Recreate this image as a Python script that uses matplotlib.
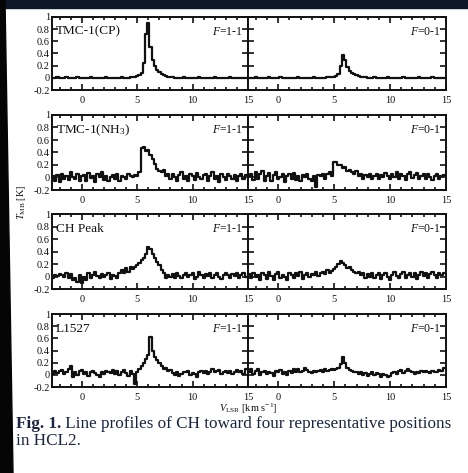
import matplotlib
matplotlib.use('Agg')
import matplotlib.pyplot as plt
import numpy as np
from matplotlib.patches import Rectangle, Polygon
from matplotlib.ticker import MultipleLocator, FixedLocator, FuncFormatter

plt.rcParams['font.family'] = ['Liberation Serif', 'DejaVu Serif']
plt.rcParams['mathtext.fontset'] = 'custom'
plt.rcParams['mathtext.rm'] = 'Liberation Serif'
plt.rcParams['mathtext.it'] = 'Liberation Serif:italic'
plt.rcParams['mathtext.bf'] = 'Liberation Serif:bold'
plt.rcParams['axes.unicode_minus'] = False

# ---------------- data ----------------
v_start, v_step, n_chan = -2.6, 0.2, 88
velocity = v_start + v_step * np.arange(n_chan)

sources = ["TMC-1(CP)", "TMC-1(NH$_3$)", "CH Peak", "L1527"]
transitions = ["$F$=1-1", "$F$=0-1"]

tmc1cp_11 = [0.0, 0.0, 0.01, 0.0, 0.0, 0.0, 0.01, 0.0, 0.0, 0.0,
             0.0, 0.01, 0.0, 0.0, 0.0, 0.0, 0.0, 0.01, 0.0, 0.0,
             0.0, 0.0, 0.0, 0.0, 0.01, 0.0, 0.0, 0.0, 0.0, 0.0,
             0.0, 0.01, 0.0, 0.0, 0.0, 0.01, 0.01, 0.02,
             0.03, 0.04, 0.08, 0.24, 0.72, 0.9, 0.5, 0.3, 0.2, 0.13,
             0.09, 0.06, 0.05, 0.03, 0.02, 0.01, 0.01, 0.0, 0.0, 0.0,
             0.0, 0.01, 0.0, 0.0, 0.0, 0.0, 0.0, 0.0, 0.01, 0.0,
             0.0, 0.0, 0.0, 0.0, 0.0, 0.01, 0.0, 0.0, 0.0, 0.0,
             0.0, 0.0, 0.01, 0.0, 0.0, 0.0, 0.0, 0.0, 0.0, 0.0]
tmc1cp_01 = [0.0, 0.0, 0.0, 0.01, 0.0, 0.0, 0.0, 0.0, 0.0, 0.01,
             0.0, 0.0, 0.0, 0.0, 0.01, 0.0, 0.0, 0.0, 0.0, 0.0,
             0.0, 0.0, 0.01, 0.0, 0.0, 0.0, 0.0, 0.0, 0.0, 0.01,
             0.0, 0.0, 0.0, 0.0, 0.0, 0.01, 0.01, 0.01,
             0.02, 0.03, 0.06, 0.2, 0.38, 0.3, 0.18, 0.12, 0.08, 0.06,
             0.04, 0.03, 0.02, 0.01, 0.01, 0.0, 0.0, 0.0, 0.01, 0.0,
             0.0, 0.0, 0.0, 0.0, 0.01, 0.0, 0.0, 0.0, 0.0, 0.0,
             0.0, 0.01, 0.0, 0.0, 0.0, 0.0, 0.0, 0.0, 0.01, 0.0,
             0.0, 0.0, 0.0, 0.0, 0.01, 0.0, 0.0, 0.0, 0.0, 0.0]
tmc1nh3_11 = [0.02, -0.05, 0.04, -0.08, 0.06, -0.02, 0.03, -0.04, 0.08, 0.0,
              -0.03, 0.05, -0.06, 0.02, 0.04, -0.05, 0.07, -0.01, 0.03, -0.07,
              0.05, 0.0, 0.09, -0.04, 0.02, -0.06, 0.01, 0.04, -0.03, 0.06,
              -0.05, 0.02, 0.0, -0.02, 0.05, 0.03, 0.0, 0.04,
              0.02, 0.08, 0.47, 0.49, 0.42, 0.44, 0.36, 0.3, 0.22, 0.14,
              0.1, 0.08, 0.12, 0.03, 0.05, -0.03, 0.06, 0.0, -0.05, 0.04,
              0.08, -0.02, 0.03, -0.06, 0.05, 0.02, -0.04, 0.07, 0.0, -0.03,
              0.04, 0.06, -0.05, 0.02, 0.09, -0.02, 0.03, -0.07, 0.05, 0.01,
              -0.04, 0.06, 0.02, -0.03, 0.04, -0.06, 0.03, 0.05, -0.02, 0.04]
tmc1nh3_01 = [0.03, 0.06, -0.04, 0.08, -0.02, 0.05, 0.1, -0.06, 0.02, 0.07,
              -0.05, 0.04, 0.08, -0.03, 0.01, 0.06, -0.07, 0.03, 0.05, -0.02,
              0.07, -0.04, 0.02, -0.06, 0.04, 0.0, 0.06, -0.03, -0.05, 0.03,
              -0.15, 0.04, 0.02, 0.06, -0.02, 0.05, 0.08, 0.03,
              0.25, 0.24, 0.2, 0.2, 0.15, 0.16, 0.1, 0.12, 0.08, 0.05,
              0.1, 0.02, 0.06, -0.02, 0.04, 0.0, 0.05, -0.03, 0.03, 0.06,
              -0.02, 0.04, 0.0, 0.07, 0.02, -0.03, 0.05, 0.01, 0.08, -0.02,
              0.06, 0.03, -0.04, 0.05, 0.09, -0.01, 0.04, 0.07, -0.03, 0.02,
              0.05, -0.02, 0.06, 0.01, -0.04, 0.03, 0.05, -0.03, 0.02, 0.04]
chpeak_11 = [-0.02, 0.03, 0.01, 0.04, 0.02, 0.0, 0.05, -0.03, 0.04, -0.06,
             -0.02, -0.08, 0.02, -0.1, 0.0, -0.05, 0.06, -0.02, 0.03, 0.08,
             0.01, -0.03, 0.04, 0.0, 0.02, 0.05, -0.04, 0.03, 0.01, -0.02,
             0.05, 0.1, 0.06, 0.13, 0.08, 0.16, 0.12, 0.15,
             0.18, 0.22, 0.26, 0.3, 0.36, 0.48, 0.44, 0.36, 0.3, 0.24,
             0.18, 0.1, 0.06, -0.02, 0.03, 0.0, 0.04, -0.03, 0.05, 0.01,
             -0.02, 0.03, 0.06, -0.01, 0.02, 0.05, -0.04, 0.0, 0.07, 0.02,
             -0.03, 0.04, 0.01, 0.06, -0.02, 0.03, 0.05, 0.0, -0.04, 0.03,
             0.06, 0.02, -0.03, 0.04, 0.01, 0.05, -0.02, 0.03, 0.06, 0.0]
chpeak_01 = [0.04, -0.03, 0.06, 0.0, 0.03, -0.05, 0.05, 0.02, -0.04, 0.07,
             0.01, -0.06, 0.04, 0.08, -0.02, 0.03, 0.0, -0.05, 0.06, 0.02,
             -0.03, 0.05, 0.01, 0.07, -0.04, 0.03, 0.06, 0.0, 0.04, 0.02,
             0.07, 0.01, 0.05, 0.08, 0.04, 0.1, 0.06, 0.09,
             0.12, 0.15, 0.2, 0.25, 0.22, 0.18, 0.14, 0.16, 0.1, 0.07,
             0.05, 0.08, 0.02, 0.05, -0.02, 0.04, 0.0, 0.06, -0.03, 0.03,
             0.05, -0.04, 0.02, 0.06, 0.0, -0.05, 0.03, 0.07, 0.01, -0.02,
             0.04, 0.08, -0.03, 0.02, 0.05, 0.0, 0.06, -0.04, 0.03, 0.07,
             0.01, 0.05, -0.02, 0.04, 0.08, 0.02, -0.03, 0.05, 0.03, 0.06]
l1527_11 = [0.02, 0.07, 0.03, 0.06, 0.08, 0.02, 0.05, 0.09, 0.14, -0.04,
            0.05, 0.0, 0.06, 0.08, 0.02, 0.05, -0.02, 0.04, 0.07, 0.03,
            0.0, -0.03, 0.04, 0.02, 0.07, 0.05, 0.03, 0.08, 0.02, 0.06,
            0.0, 0.05, 0.08, 0.03, -0.02, 0.06, 0.02, -0.15,
            0.05, 0.1, 0.14, 0.2, 0.26, 0.32, 0.62, 0.4, 0.3, 0.24,
            0.2, 0.14, 0.1, 0.12, 0.06, 0.08, 0.03, 0.0, 0.05, -0.02,
            0.01, 0.05, 0.04, 0.06, -0.01, 0.03, 0.02, -0.03, 0.04, 0.06,
            0.03, 0.07, 0.02, 0.05, 0.09, 0.04, 0.06, 0.08, 0.02, 0.05,
            0.07, 0.03, 0.06, 0.01, 0.05, 0.08, 0.04, 0.06, 0.02, 0.1]
l1527_01 = [0.05, 0.09, 0.02, 0.06, 0.1, 0.0, 0.04, 0.07, 0.01, 0.05,
            0.03, -0.02, 0.06, 0.04, 0.08, 0.02, 0.05, 0.0, 0.07, 0.03,
            0.09, 0.04, 0.1, 0.05, 0.06, 0.12, 0.08, 0.05, 0.03, 0.06,
            0.04, 0.07, 0.08, 0.05, 0.09, 0.06, 0.08, 0.1,
            0.08, 0.1, 0.12, 0.18, 0.29, 0.2, 0.12, 0.08, 0.06, 0.04,
            0.05, 0.02, 0.04, 0.0, 0.03, -0.02, 0.02, 0.05, 0.0, 0.03,
            0.01, -0.03, 0.02, 0.0, -0.04, -0.02, 0.03, 0.05, 0.01, 0.06,
            0.08, 0.03, 0.07, 0.1, 0.06, 0.04, 0.02, 0.05, 0.03, 0.06,
            0.04, 0.07, 0.05, 0.03, 0.06, 0.04, 0.05, 0.08, 0.06, 0.12]

spectra = [[tmc1cp_11, tmc1cp_01],
           [tmc1nh3_11, tmc1nh3_01],
           [chpeak_11, chpeak_01],
           [l1527_11, l1527_01]]

x_ticks = [0, 5, 10, 15]
y_ticks = [-0.2, 0, 0.2, 0.4, 0.6, 0.8, 1.0]

caption_bold = "Fig. 1."
caption_rest = " Line profiles of CH toward four representative positions"
caption_line2 = "in HCL2."

# ---------------- layout ----------------
W, H = 468, 473
fig = plt.figure(figsize=(W / 100, H / 100), dpi=100)
fig.patch.set_facecolor('white')

# dark scan border
fig.patches.append(Rectangle((0, 1 - 8 / H), 1, 8 / H, transform=fig.transFigure,
                             color='#0c1828', zorder=-5))
fig.patches.append(Polygon([(0, 0), (13 / W, 0), (5 / W, 1), (0, 1)], closed=True,
                           transform=fig.transFigure, color='#050505', zorder=-5))

cols = [(52, 248), (248, 446)]
rows = [(17, 90), (115, 190), (214, 289), (314, 387)]
ink = '#111111'

for r, (y0, y1) in enumerate(rows):
    for c, (x0, x1) in enumerate(cols):
        ax = fig.add_axes([x0 / W, 1 - y1 / H, (x1 - x0) / W, (y1 - y0) / H])
        ax.plot(velocity, spectra[r][c], drawstyle='steps-mid', color=ink, lw=1.6)
        ax.set_xlim(-2.7, 15)
        ax.set_ylim(-0.2, 1.0)
        ax.xaxis.set_major_locator(FixedLocator(x_ticks))
        ax.xaxis.set_minor_locator(MultipleLocator(1))
        ax.yaxis.set_major_locator(FixedLocator(y_ticks))
        ax.tick_params(which='both', direction='in', top=True, right=True,
                       colors=ink, labelsize=7.5, width=1.2)
        ax.tick_params(which='major', length=4)
        ax.tick_params(which='minor', length=2.4)
        ax.tick_params(axis='x', pad=4)
        ax.tick_params(axis='y', pad=1.5)
        ax.xaxis.set_major_formatter(FuncFormatter(lambda val, pos: '%g' % val))
        if c == 0:
            ax.yaxis.set_major_formatter(FuncFormatter(lambda val, pos: '%g' % val))
            ax.text(0.02, 0.80, sources[r], transform=ax.transAxes, fontsize=9.5,
                    ha='left', va='center', color=ink)
        else:
            ax.set_yticklabels([])
        ax.text(0.975, 0.80, transitions[c], transform=ax.transAxes, fontsize=8.5,
                ha='right', va='center', color=ink)
        for s in ax.spines.values():
            s.set_linewidth(1.4)
            s.set_color(ink)

fig.text(22 / W, 1 - 202 / H, r"$T_{\rm MB}$ [K]", rotation=90, fontsize=7.5,
         ha='center', va='center', color=ink)
fig.text(248 / W, 1 - 409 / H, r"$V_{\rm LSR}$ [km s$^{-1}$]", fontsize=7.5,
         ha='center', va='center', color=ink)

# caption, fitted to the width of the reference line
cap_color = '#1b2440'
fs = 10.5
fig.canvas.draw()
rend = fig.canvas.get_renderer()
for _ in range(3):
    t1 = fig.text(16 / W, 1 - 424 / H, caption_bold, fontsize=fs, weight='bold',
                  ha='left', va='center', color=cap_color)
    bb1 = t1.get_window_extent(rend)
    t2 = fig.text(bb1.x1 / W, 1 - 424 / H, caption_rest, fontsize=fs,
                  ha='left', va='center', color=cap_color)
    bb2 = t2.get_window_extent(rend)
    total = bb2.x1 - bb1.x0
    if abs(total - 434) < 2:
        break
    t1.remove()
    t2.remove()
    fs = fs * 434 / total
fig.text(16 / W, 1 - 441 / H, caption_line2, fontsize=fs, ha='left', va='center',
         color=cap_color)

fig.savefig('out.png', dpi=100, facecolor=fig.get_facecolor())
